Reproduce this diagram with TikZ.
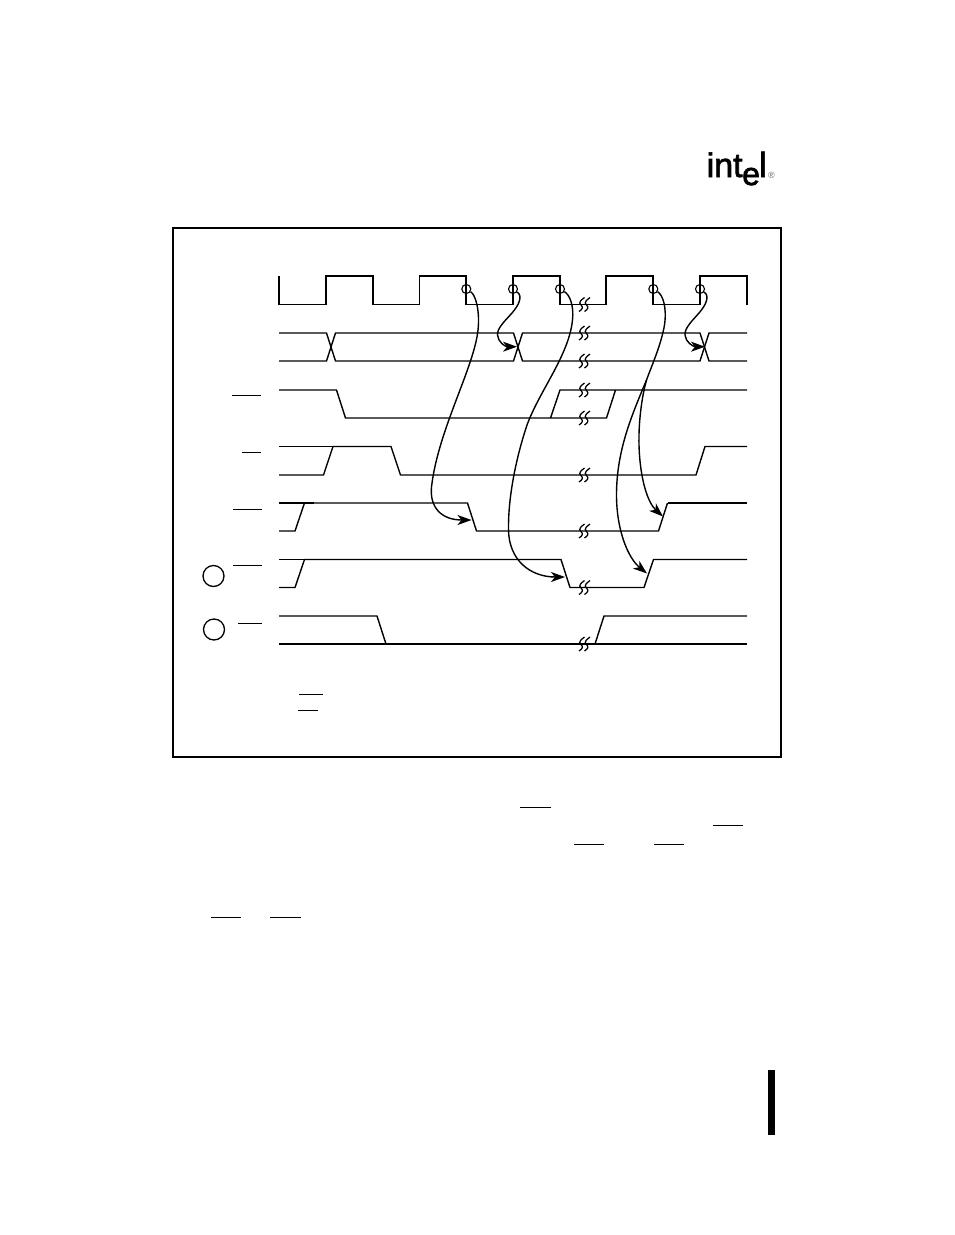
\documentclass[tikz,border=0pt]{standalone}
\usepackage{fontspec}
\setmainfont{Liberation Sans}
\newfontfamily\logofont[FakeBold=2]{Liberation Sans}
\usetikzlibrary{arrows.meta}
\tikzset{
  signal/.style={line width=1.4pt,line join=miter},
  heavy/.style={line width=2.1pt,line join=miter},
  framebox/.style={line width=1.7pt},
  overbar/.style={line width=1.3pt},
  breakmark/.style={line width=1.25pt},
  causal/.style={line width=1.4pt,-{Stealth[length=14pt,width=10pt,inset=4pt]}},
  probe/.style={circle,draw,line width=1.1pt,minimum size=9pt,inner sep=0pt},
  tag/.style={circle,draw,line width=1.3pt,minimum size=21pt,inner sep=0pt},
  logo/.style={inner sep=0pt,anchor=base west}
}
\newcommand{\brk}[1]{%
  \draw[breakmark] (584.5,#1-7) .. controls (582,#1-5) and (577.5,#1-2) .. (581,#1+0.5)
    .. controls (583.5,#1+3) and (582.5,#1+4.5) .. (579,#1+7);
  \draw[breakmark] (590,#1-7) .. controls (587.5,#1-5) and (583,#1-2) .. (586.5,#1+0.5)
    .. controls (589,#1+3) and (588,#1+4.5) .. (584.5,#1+7);
}
\begin{document}
\begin{tikzpicture}[x=1pt,y=-1pt]
\useasboundingbox (0,0) rectangle (954,1235);
\fill[white] (0,0) rectangle (954,1235);

% logo
\node[logo] (logoa) at (706.5,177) {\logofont\fontsize{34}{34}\selectfont int};
\node[logo] (logob) at (742,185) {\logofont\fontsize{32}{32}\selectfont e};
\node[logo] (logoc) at (759,177) {\logofont\fontsize{35}{35}\selectfont l};
\node[logo,text=black!60] (logod) at (768,178) {\fontsize{9}{9}\selectfont ®};

% frame
\draw[framebox] (173,228) rectangle (781,757);

% clock
\draw[signal] (279,276) -- (279,304.5) -- (326,304.5) -- (326,276) -- (373,276) -- (373,304.5)
  -- (419.5,304.5) -- (419.5,276) -- (466,276) -- (466,304.5) -- (513,304.5) -- (513,276)
  -- (560,276) -- (560,304.5) -- (606,304.5) -- (606,276) -- (653,276) -- (653,304.5)
  -- (700,304.5) -- (700,276) -- (747,276) -- (747,304.5);

% address
\draw[signal] (279,333) -- (326.5,333) -- (335.5,361) -- (513.5,361) -- (522.5,333) -- (700,333) -- (709,361) -- (747,361);
\draw[signal] (279,361) -- (326.5,361) -- (335.5,333) -- (513.5,333) -- (522.5,361) -- (700,361) -- (709,333) -- (747,333);

% third
\draw[signal] (279,390) -- (336.5,390) -- (345.5,418) -- (606.5,418) -- (615.5,390);
\draw[signal] (550.5,418) -- (560,390) -- (747,390);

% fourth
\draw[signal] (279,446.5) -- (333.5,446.5);
\draw[signal] (279,475) -- (323.5,475) -- (333,446.5) -- (391,446.5) -- (400.5,475) -- (696,475) -- (705,446.5) -- (747,446.5);

% fifth
\draw[heavy] (279,503) -- (313.5,503);
\draw[signal] (279,531) -- (295,531) -- (304.5,503) -- (467.5,503) -- (476.5,531) -- (658.5,531) -- (667.5,503);
\draw[heavy] (667.5,503) -- (747,503);

% sixth
\draw[signal] (279,559.5) -- (304.5,559.5);
\draw[signal] (279,587.5) -- (295,587.5) -- (304.5,559.5) -- (561,559.5) -- (570,587.5) -- (644,587.5) -- (653.5,559.5) -- (747,559.5);

% seventh
\draw[signal] (279,616) -- (377,616) -- (386,644);
\draw[heavy] (279,644) -- (747,644);
\draw[signal] (595,644) -- (604,616) -- (747,616);

% break marks
\brk{304.5}\brk{333}\brk{361}\brk{390}\brk{418}\brk{475}\brk{531}\brk{587.5}\brk{644}

% circled tags
\node[tag] (taga) at (213.5,576) {};
\node[tag] (tagb) at (214,629.5) {};

% overbars
\draw[overbar] (232,395.5) -- (261,395.5);
\draw[overbar] (242,452.5) -- (261,452.5);
\draw[overbar] (233,509.5) -- (262,509.5);
\draw[overbar] (233,565.5) -- (262,565.5);
\draw[overbar] (238,623.5) -- (262,623.5);
\draw[overbar] (299,694.5) -- (323,694.5);
\draw[overbar] (298,710.5) -- (318,710.5);
\draw[overbar] (520,807.5) -- (551,807.5);
\draw[overbar] (713,825.5) -- (743,825.5);
\draw[overbar] (574,844.5) -- (604,844.5);
\draw[overbar] (654,844.5) -- (684,844.5);
\draw[overbar] (211,917.5) -- (241,917.5);
\draw[overbar] (270,917.5) -- (301,917.5);

% page bar
\fill[black] (768,1070) rectangle (775,1135);

% probes
\node[probe] (pa) at (466.3,289) {};
\node[probe] (pb) at (513,289) {};
\node[probe] (pc) at (560,289) {};
\node[probe] (pd) at (653.3,289) {};
\node[probe] (pe) at (700,289) {};

% arrow targets
\coordinate (ta) at (471.5,520);
\coordinate (tb) at (517,346.7);
\coordinate (tc) at (565,577);
\coordinate (td) at (647,573.5);
\coordinate (te) at (663,516.5);
\coordinate (tf) at (705,346.7);
\coordinate (fork) at (646.5,380);

% causal arrows
\draw[causal] (pa) .. controls (476,295) and (480,312) .. (478,330)
  .. controls (474,368) and (438,430) .. (431.5,487)
  .. controls (429.5,508) and (442,520) .. (ta);
\draw[causal] (pb) .. controls (523,296) and (519,305) .. (512,313)
  .. controls (505,321) and (497,328) .. (497.5,335)
  .. controls (498,342) and (505,346.7) .. (tb);
\draw[causal] (pc) .. controls (570,295) and (574,306) .. (572.5,320)
  .. controls (569,355) and (540,390) .. (527,425)
  .. controls (517,455) and (508,495) .. (508.5,530)
  .. controls (509,560) and (530,577) .. (tc);
\draw[causal] (pd) .. controls (663,295) and (667,308) .. (664.5,325)
  .. controls (661,345) and (652,365) .. (fork)
  .. controls (632,415) and (616.5,450) .. (616.5,495)
  .. controls (616.5,530) and (628,558) .. (td);
\draw[causal] (fork) .. controls (641,400) and (638.5,425) .. (639,445)
  .. controls (640,480) and (648,503) .. (te);
\draw[causal] (pe) .. controls (710,296) and (706,305) .. (699,313)
  .. controls (692,321) and (684.5,328) .. (685,335)
  .. controls (685.5,342) and (693,346.7) .. (tf);
\end{tikzpicture}
\end{document}
